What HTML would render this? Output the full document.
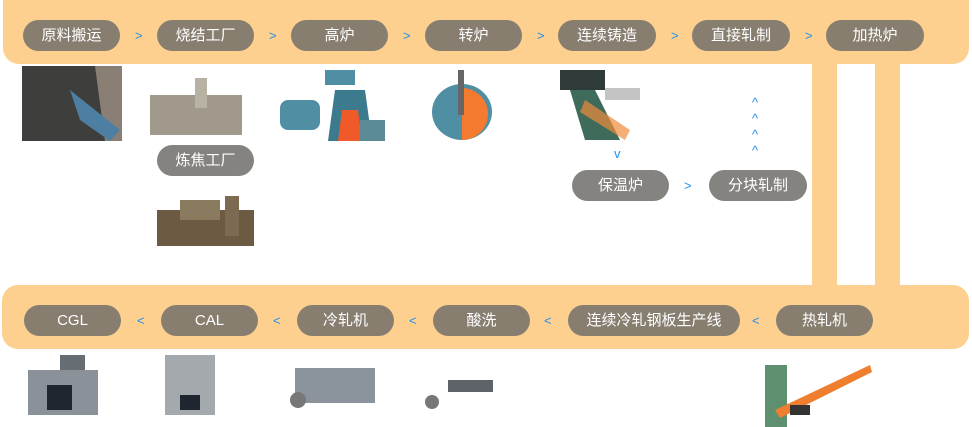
<!DOCTYPE html>
<html><head><meta charset="utf-8"><style>
*{margin:0;padding:0;box-sizing:border-box}
body{width:972px;height:427px;background:#fff;position:relative;overflow:hidden;font-family:"Liberation Sans","Noto Sans CJK SC",sans-serif}
.band{position:absolute;background:#fdd08f;border-radius:16px}
.pill{position:absolute;height:31px;border-radius:16px;background:#877e70;color:#fff;font-size:15px;line-height:31px;text-align:center}
.g{background:#858380}
.ar{position:absolute;color:#1e8ff0;font-size:13px;line-height:14px}
.im{position:absolute}
</style></head><body>
<div class="band" style="left:3px;top:-16px;width:966px;height:80px;border-radius:0 0 16px 16px"></div>
<div class="band" style="left:812px;top:60px;width:25px;height:230px;border-radius:0"></div>
<div class="band" style="left:875px;top:60px;width:25px;height:230px;border-radius:0"></div>
<div class="band" style="left:2px;top:285px;width:967px;height:64px"></div>

<div class="pill" style="left:23px;top:20px;width:97px">原料搬运</div>
<div class="pill" style="left:157px;top:20px;width:97px">烧结工厂</div>
<div class="pill" style="left:291px;top:20px;width:97px">高炉</div>
<div class="pill" style="left:425px;top:20px;width:97px">转炉</div>
<div class="pill" style="left:558px;top:20px;width:98px">连续铸造</div>
<div class="pill" style="left:692px;top:20px;width:98px">直接轧制</div>
<div class="pill" style="left:826px;top:20px;width:98px">加热炉</div>
<div class="ar" style="left:135px;top:29px">&gt;</div>
<div class="ar" style="left:269px;top:29px">&gt;</div>
<div class="ar" style="left:403px;top:29px">&gt;</div>
<div class="ar" style="left:537px;top:29px">&gt;</div>
<div class="ar" style="left:671px;top:29px">&gt;</div>
<div class="ar" style="left:805px;top:29px">&gt;</div>

<div class="pill g" style="left:157px;top:145px;width:97px">炼焦工厂</div>
<div class="pill g" style="left:572px;top:170px;width:97px">保温炉</div>
<div class="pill g" style="left:709px;top:170px;width:98px">分块轧制</div>
<div class="ar" style="left:684px;top:179px">&gt;</div>
<div class="ar" style="left:614px;top:147px">v</div>
<div class="ar" style="left:752px;top:95px;line-height:16px">^<br>^<br>^<br>^</div>

<div class="pill" style="left:24px;top:305px;width:97px">CGL</div>
<div class="pill" style="left:161px;top:305px;width:97px">CAL</div>
<div class="pill" style="left:297px;top:305px;width:97px">冷轧机</div>
<div class="pill" style="left:433px;top:305px;width:97px">酸洗</div>
<div class="pill" style="left:568px;top:305px;width:172px">连续冷轧钢板生产线</div>
<div class="pill" style="left:776px;top:305px;width:97px">热轧机</div>
<div class="ar" style="left:137px;top:314px">&lt;</div>
<div class="ar" style="left:273px;top:314px">&lt;</div>
<div class="ar" style="left:409px;top:314px">&lt;</div>
<div class="ar" style="left:544px;top:314px">&lt;</div>
<div class="ar" style="left:752px;top:314px">&lt;</div>

<!-- images approximated -->
<svg class="im" style="left:0;top:0" width="972" height="427">
<rect x="22" y="66" width="100" height="75" fill="#3e3e3c"/>
<polygon points="95,66 122,66 122,141 105,141" fill="#8a7f75"/>
<polygon points="70,90 120,130 110,141 80,120" fill="#4d7fa3"/>
<rect x="150" y="95" width="92" height="40" fill="#a19a8c"/>
<rect x="195" y="78" width="12" height="30" fill="#b8b2a5"/>
<rect x="157" y="210" width="97" height="36" fill="#6d5a43"/>
<rect x="180" y="200" width="40" height="20" fill="#8a7a5e"/>
<rect x="225" y="196" width="14" height="40" fill="#7c6a52"/>
<rect x="280" y="100" width="40" height="30" rx="8" fill="#4f8ea3"/>
<rect x="325" y="70" width="30" height="15" fill="#4f8ea3"/>
<polygon points="335,90 365,90 372,141 328,141" fill="#3c7a8e"/>
<polygon points="342,110 358,110 362,141 338,141" fill="#f05a28"/>
<rect x="360" y="120" width="25" height="21" fill="#5a8a96"/>
<ellipse cx="462" cy="112" rx="30" ry="28" fill="#4f8ea3"/>
<path d="M462 88 A26 26 0 0 1 462 140 Z" fill="#f47a30"/>
<rect x="458" y="70" width="6" height="45" fill="#666"/>
<rect x="560" y="70" width="45" height="20" fill="#2f3b3a"/>
<polygon points="570,90 595,90 620,140 585,140" fill="#3f6b5a"/>
<rect x="605" y="88" width="35" height="12" fill="#c4c4c4"/>
<polygon points="585,100 630,130 625,140 580,112" fill="#ee8a3b" opacity=".7"/>
<rect x="28" y="370" width="70" height="45" fill="#8b9199"/>
<rect x="47" y="385" width="25" height="25" fill="#1f2630"/>
<rect x="60" y="355" width="25" height="15" fill="#666d73"/>
<rect x="165" y="355" width="50" height="60" fill="#9aa0a5" opacity=".9"/>
<rect x="180" y="395" width="20" height="15" fill="#1f2630"/>
<rect x="295" y="368" width="80" height="35" fill="#8b939c"/>
<circle cx="298" cy="400" r="8" fill="#777"/>
<rect x="448" y="380" width="45" height="12" fill="#5d6368"/>
<circle cx="432" cy="402" r="7" fill="#777"/>
<rect x="765" y="365" width="22" height="62" fill="#5e8f6e"/>
<polygon points="775,410 870,365 872,372 780,418" fill="#ef7e2e"/>
<rect x="790" y="405" width="20" height="10" fill="#333"/>
</svg>
</body></html>
